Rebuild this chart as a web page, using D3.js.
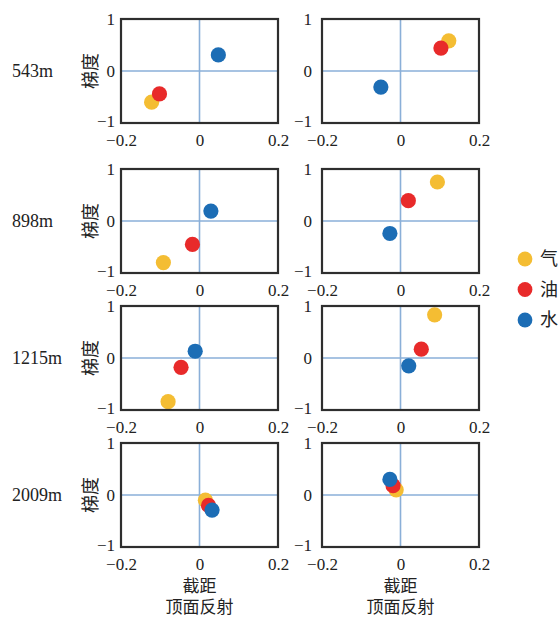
<!DOCTYPE html>
<html>
<head>
<meta charset="utf-8">
<script src="https://cdn.jsdelivr.net/npm/d3@7"></script>
<style>
  html, body { margin: 0; padding: 0; background: #fff; }
  svg { display: block; }
</style>
</head>
<body>
<svg id="chart" width="560" height="617"></svg>
<script>
// Depth levels (rows) and fluid types (series)
const depths = ["543m", "898m", "1215m", "2009m"];
const fluids = ["气", "油", "水"];

// Axis ticks
const xTicks = [-0.2, 0, 0.2];
const yTicks = [-1, 0, 1];

// Left column: intercept (x) and gradient (y) per depth
const gasX1   = [-0.122, -0.092, -0.080, 0.015];
const gasY1   = [-0.60, -0.80, -0.84, -0.10];
const oilX1   = [-0.102, -0.018, -0.047, 0.023];
const oilY1   = [-0.44, -0.45, -0.18, -0.20];
const waterX1 = [0.048, 0.029, -0.011, 0.032];
const waterY1 = [0.31, 0.19, 0.13, -0.29];

// Right column: top-surface reflection intercept (x) and gradient (y)
const gasX2   = [0.123, 0.094, 0.087, -0.011];
const gasY2   = [0.58, 0.75, 0.83, 0.10];
const oilX2   = [0.103, 0.020, 0.053, -0.019];
const oilY2   = [0.44, 0.39, 0.17, 0.18];
const waterX2 = [-0.050, -0.027, 0.021, -0.027];
const waterY2 = [-0.31, -0.24, -0.15, 0.30];

const fluidColors = ["#F4BD33", "#E82A2A", "#1C6DB5"];

const columns = [
  { xs: [gasX1, oilX1, waterX1], ys: [gasY1, oilY1, waterY1] },
  { xs: [gasX2, oilX2, waterX2], ys: [gasY2, oilY2, waterY2] }
];

// Layout
const colLeft = [121, 322];
const panelW = 157;
const rowTop = [19, 169, 306, 443];
const panelH = 104;
const dotR = 7.6;

const serif = "'Liberation Serif', 'DejaVu Serif', serif";
const cjk = "'Noto Sans CJK SC', sans-serif";

const svg = d3.select("#chart");

const fmtX = d => d === 0 ? "0" : d3.format(".1f")(d);
const fmtY = d => d3.format("d")(d);

depths.forEach((depth, r) => {
  const top = rowTop[r];
  const bottom = top + panelH;

  // depth label
  svg.append("text")
    .attr("x", 12)
    .attr("y", top + panelH / 2)
    .attr("dy", "0.35em")
    .attr("font-family", serif)
    .attr("font-size", 18)
    .attr("fill", "#222")
    .text(depth);

  // gradient axis title (left column only)
  svg.append("text")
    .attr("transform", `translate(91,${top + panelH / 2}) rotate(-90)`)
    .attr("text-anchor", "middle")
    .attr("dy", "0.35em")
    .attr("font-family", cjk)
    .attr("font-size", 18)
    .attr("fill", "#222")
    .text("梯度");

  columns.forEach((col, c) => {
    const left = colLeft[c];
    const x = d3.scaleLinear().domain([-0.2, 0.2]).range([left, left + panelW]);
    const y = d3.scaleLinear().domain([-1, 1]).range([bottom, top]);
    const g = svg.append("g");

    // zero reference lines
    g.append("line")
      .attr("x1", x(0)).attr("x2", x(0))
      .attr("y1", y(-1)).attr("y2", y(1))
      .attr("stroke", "#8AAFD8").attr("stroke-width", 1.6);
    g.append("line")
      .attr("x1", x(-0.2)).attr("x2", x(0.2))
      .attr("y1", y(0)).attr("y2", y(0))
      .attr("stroke", "#8AAFD8").attr("stroke-width", 1.6);

    // x axis labels
    const ax = g.append("g")
      .attr("transform", `translate(0,${bottom + 8})`)
      .call(d3.axisBottom(x).tickValues(xTicks).tickSize(0).tickFormat(fmtX));
    ax.select(".domain").remove();
    ax.selectAll("text")
      .attr("font-family", serif).attr("font-size", 17).attr("fill", "#222");

    // y axis labels
    const ay = g.append("g")
      .attr("transform", `translate(${left - (c === 0 ? 3 : 7)},0)`)
      .call(d3.axisLeft(y).tickValues(yTicks).tickSize(0).tickFormat(fmtY));
    ay.select(".domain").remove();
    ay.selectAll("text")
      .attr("font-family", serif).attr("font-size", 17).attr("fill", "#222");
    ay.selectAll(".tick").filter(d => d === -1).select("text").attr("y", -2);

    // points: gas, oil, water (water drawn on top)
    fluids.forEach((f, k) => {
      g.append("circle")
        .attr("cx", x(col.xs[k][r]))
        .attr("cy", y(col.ys[k][r]))
        .attr("r", dotR)
        .attr("fill", fluidColors[k]);
    });

    // frame
    g.append("rect")
      .attr("x", x(-0.2)).attr("y", y(1))
      .attr("width", x(0.2) - x(-0.2))
      .attr("height", y(-1) - y(1))
      .attr("fill", "none")
      .attr("stroke", "#2e2e2e").attr("stroke-width", 2.2);

    // bottom titles under the last row
    if (r === depths.length - 1) {
      svg.append("text")
        .attr("x", x(0)).attr("y", 586)
        .attr("dy", "0.35em")
        .attr("text-anchor", "middle")
        .attr("font-family", cjk).attr("font-size", 17).attr("fill", "#222")
        .text("截距");
      svg.append("text")
        .attr("x", x(0)).attr("y", 607)
        .attr("dy", "0.35em")
        .attr("text-anchor", "middle")
        .attr("font-family", cjk).attr("font-size", 17).attr("fill", "#222")
        .text("顶面反射");
    }
  });
});

// legend
const legend = svg.append("g").attr("transform", "translate(525,259)");
fluids.forEach((f, k) => {
  const row = legend.append("g").attr("transform", `translate(0,${k * 30.5})`);
  row.append("circle").attr("r", 7.4).attr("fill", fluidColors[k]);
  row.append("text")
    .attr("x", 15).attr("dy", "0.35em")
    .attr("font-family", cjk).attr("font-size", 18).attr("fill", "#222")
    .text(f);
});
</script>
</body>
</html>
